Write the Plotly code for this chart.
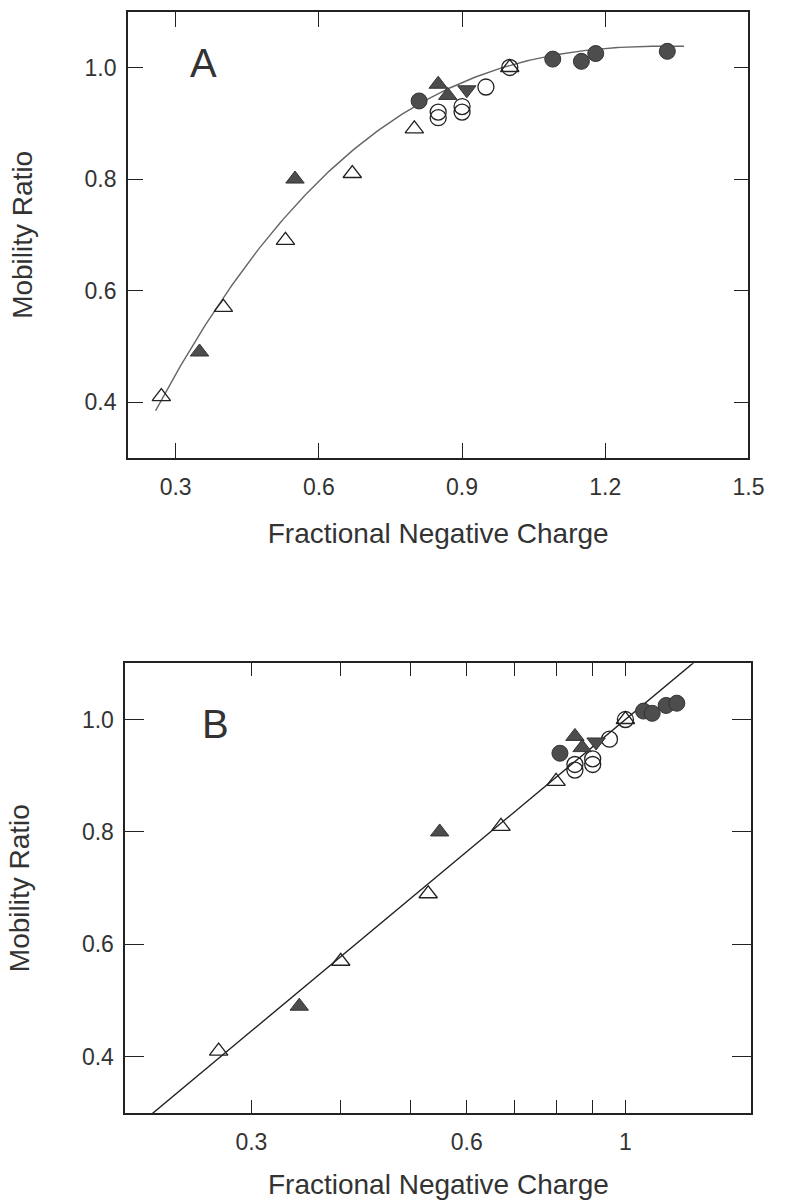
import numpy as np
import plotly.graph_objects as go

# ---- data (same samples in both panels unless noted) ----
open_tri_x = [0.27, 0.40, 0.53, 0.67, 0.80, 1.00]
open_tri_y = [0.41, 0.57, 0.69, 0.81, 0.89, 1.00]

fill_tri_x = [0.35, 0.55, 0.85, 0.87]
fill_tri_y = [0.49, 0.80, 0.97, 0.95]

fill_dtri_x = [0.91]
fill_dtri_y = [0.96]

open_circ_x = [0.85, 0.85, 0.90, 0.90, 0.95, 1.00]
open_circ_y = [0.92, 0.91, 0.93, 0.92, 0.965, 1.00]

fill_circ_x_a = [0.81, 1.09, 1.15, 1.18, 1.33]
fill_circ_x_b = [0.81, 1.06, 1.09, 1.14, 1.18]
fill_circ_y = [0.94, 1.015, 1.011, 1.025, 1.029]

# fitted curves
fit_a_coef = [0.3336, -1.5434, 2.3337, -0.1203]   # cubic in x, panel A
fit_a_span = [0.258, 1.365]
fit_b_intercept = 1.0                              # y = a + b*log10(x), panel B
fit_b_slope = 1.06

x_ticks_a = [0.3, 0.6, 0.9, 1.2, 1.5]
x_ticks_b = [0.3, 0.6, 1.0]
x_ticktext_b = ["0.3", "0.6", "1"]
x_minor_b = [0.4, 0.5, 0.7, 0.8, 0.9]
y_ticks = [0.4, 0.6, 0.8, 1.0]

FONT = "Liberation Sans, Arial, sans-serif"
INK = "#222222"
TXT = "#333333"
FILL = "#4d4d4d"
MS_CIRC = 16
MS_TRI = 16

fig = go.Figure()


def add_points(xaxis, yaxis, circ_x):
    common = dict(mode="markers", xaxis=xaxis, yaxis=yaxis, showlegend=False,
                  hoverinfo="skip")
    fig.add_trace(go.Scatter(x=open_tri_x, y=open_tri_y,
                             marker=dict(symbol="triangle-up-open", size=MS_TRI, color=INK,
                                         line=dict(width=1.3, color=INK)), **common))
    fig.add_trace(go.Scatter(x=open_circ_x, y=open_circ_y,
                             marker=dict(symbol="circle-open", size=MS_CIRC, color=INK,
                                         line=dict(width=1.3, color=INK)), **common))
    fig.add_trace(go.Scatter(x=fill_tri_x, y=fill_tri_y,
                             marker=dict(symbol="triangle-up", size=MS_TRI, color=FILL,
                                         line=dict(width=1, color="#333333")), **common))
    fig.add_trace(go.Scatter(x=fill_dtri_x, y=fill_dtri_y,
                             marker=dict(symbol="triangle-down", size=MS_TRI, color=FILL,
                                         line=dict(width=1, color="#333333")), **common))
    fig.add_trace(go.Scatter(x=circ_x, y=fill_circ_y,
                             marker=dict(symbol="circle", size=MS_CIRC, color=FILL,
                                         line=dict(width=1, color="#333333")), **common))


# panel A fit curve
xa = np.linspace(fit_a_span[0], fit_a_span[1], 200)
ya = np.polyval(fit_a_coef, xa)
fig.add_trace(go.Scatter(x=xa, y=ya, mode="lines", xaxis="x", yaxis="y",
                         line=dict(color="#666666", width=1.4), showlegend=False,
                         hoverinfo="skip"))
add_points("x", "y", fill_circ_x_a)

# panel B fit line (straight on log axis)
xb = np.array([0.2, 1.5])
yb = fit_b_intercept + fit_b_slope * np.log10(xb)
fig.add_trace(go.Scatter(x=xb, y=yb, mode="lines", xaxis="x2", yaxis="y2",
                         line=dict(color=INK, width=1.4), showlegend=False,
                         hoverinfo="skip"))
add_points("x2", "y2", fill_circ_x_b)

tickfont = dict(family=FONT, size=23, color=TXT)
titlefont = dict(family=FONT, size=28, color=TXT)
axis_common = dict(showgrid=False, zeroline=False, showline=True, linecolor=INK,
                   linewidth=1.8, mirror="ticks", ticks="inside", tickcolor=INK,
                   tickwidth=1.4, tickfont=tickfont)

fig.update_layout(
    width=786, height=1200,
    margin=dict(l=0, r=0, t=0, b=0),
    paper_bgcolor="white", plot_bgcolor="white",
    showlegend=False,
    xaxis=dict(domain=[130.6 / 786, 764 / 786], anchor="y", range=[0.2, 1.5],
               tickvals=x_ticks_a, ticktext=[f"{v:.1f}" for v in x_ticks_a],
               ticklen=15, ticklabelstandoff=7,
               title=dict(text="Fractional Negative Charge", font=titlefont, standoff=25),
               **axis_common),
    yaxis=dict(domain=[1 - 458 / 1200, 1 - 11.7 / 1200], anchor="x", range=[0.3, 1.1],
               tickvals=y_ticks, ticktext=[f"{v:.1f}" for v in y_ticks],
               ticklen=15, ticklabelstandoff=5,
               title=dict(text="Mobility Ratio", font=titlefont, standoff=44),
               **axis_common),
    xaxis2=dict(domain=[128 / 786, 767 / 786], anchor="y2", type="log",
                range=[np.log10(0.2), np.log10(1.5)],
                tickvals=x_ticks_b, ticktext=x_ticktext_b,
                ticklen=13, ticklabelstandoff=7,
                minor=dict(tickvals=x_minor_b, ticks="inside", ticklen=13,
                           tickwidth=1.4, tickcolor=INK, showgrid=False),
                title=dict(text="Fractional Negative Charge", font=titlefont, standoff=25),
                **axis_common),
    xaxis3=dict(domain=[128 / 786, 767 / 786], anchor="y2", overlaying="x2", type="log",
                range=[np.log10(0.2), np.log10(1.5)],
                tickvals=[1.0], showticklabels=False, ticks="inside", ticklen=20,
                tickwidth=1.4, tickcolor=INK, showline=False, mirror="ticks",
                showgrid=False, zeroline=False),
    yaxis2=dict(domain=[1 - 1113 / 1200, 1 - 663.3 / 1200], anchor="x2", range=[0.3, 1.1],
                tickvals=y_ticks, ticktext=[f"{v:.1f}" for v in y_ticks],
                ticklen=19, ticklabelstandoff=5,
                title=dict(text="Mobility Ratio", font=titlefont, standoff=44),
                **axis_common),
    annotations=[
        dict(text="A", xref="x domain", yref="y domain", x=0.122, y=0.885,
             showarrow=False, xanchor="center", yanchor="middle",
             font=dict(family=FONT, size=40, color=TXT)),
        dict(text="B", xref="x2 domain", yref="y2 domain", x=0.144, y=0.865,
             showarrow=False, xanchor="center", yanchor="middle",
             font=dict(family=FONT, size=40, color=TXT)),
    ],
)

fig.write_html("out.html")
